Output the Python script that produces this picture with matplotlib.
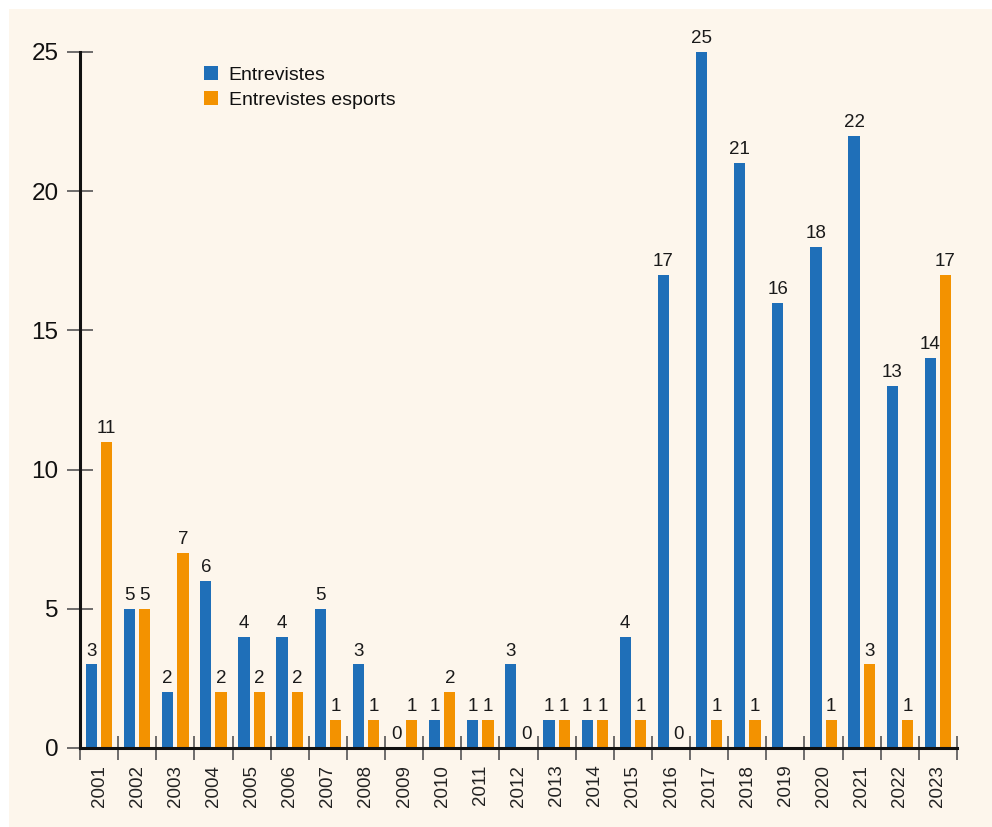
import matplotlib
matplotlib.use("Agg")
import matplotlib.pyplot as plt
from matplotlib.patches import Rectangle
import numpy as np

years = [str(y) for y in range(2001, 2024)]
entrevistes = [3, 5, 2, 6, 4, 4, 5, 3, 0, 1, 1, 3, 1, 1, 4, 17, 25, 21, 16, 18, 22, 13, 14]
esports = [11, 5, 7, 2, 2, 2, 1, 1, 1, 2, 1, 0, 1, 1, 1, 0, 1, 1, None, 1, 3, 1, 17]
series_names = ["Entrevistes", "Entrevistes esports"]
yticks = [0, 5, 10, 15, 20, 25]

BLUE = "#1f6fb8"
ORANGE = "#f39200"
BG = "#fdf6ec"

plt.rcParams['font.family'] = ['Liberation Sans', 'DejaVu Sans']
label_font = ['Liberation Sans Narrow', 'Liberation Sans', 'DejaVu Sans']

fig = plt.figure(figsize=(9.92, 8.27), dpi=100, facecolor="white")
fig.patches.append(Rectangle((9/992, 0), 1 - 9/992, 1 - 9/827, transform=fig.transFigure,
                             facecolor=BG, edgecolor="none", zorder=-10))
ax = fig.add_axes([80/992, 1 - 748/827, (957 - 80)/992, (748 - 52)/827])
ax.set_facecolor("none")

n = len(years)
x = np.arange(n)
w = 0.295
bx = x + 0.30
ox = x + 0.70

b1 = ax.bar(bx, entrevistes, width=w, color=BLUE, label=series_names[0], zorder=2)
ox_valid = [xx for xx, v in zip(ox, esports) if v is not None]
ov_valid = [v for v in esports if v is not None]
b2 = ax.bar(ox_valid, ov_valid, width=w, color=ORANGE, label=series_names[1], zorder=2)

for xs, vs in ((bx, entrevistes), (ox_valid, ov_valid)):
    for xx, v in zip(xs, vs):
        ax.annotate(str(v), (xx, v), xytext=(0, 3.5), textcoords="offset points",
                    ha="center", va="bottom", fontsize=13.5, family=label_font,
                    color="#1a1a1a", clip_on=False)

ax.set_xlim(0, n)
ax.set_ylim(0, 25)

for s in ["top", "right"]:
    ax.spines[s].set_visible(False)
for s in ["left", "bottom"]:
    ax.spines[s].set_linewidth(2.2)
    ax.spines[s].set_color("#111111")

ax.set_yticks(yticks)
ax.set_yticklabels([str(t) for t in yticks], fontsize=17.5, color="#111111")
ax.tick_params(axis="y", which="major", direction="inout", length=19, width=1.2,
               color="#555555", pad=6)

ax.set_xticks(np.arange(0, n + 1))
ax.set_xticklabels([])
ax.set_xticks(x + 0.5, minor=True)
ax.set_xticklabels(years, minor=True, rotation=90, fontsize=13.5, color="#222222")
ax.tick_params(axis="x", which="major", direction="inout", length=17, width=1.2, color="#555555")
ax.tick_params(axis="x", which="minor", length=0, pad=12)

leg = ax.legend(handles=[b1, b2], loc="upper left", bbox_to_anchor=(204/992, 1 - 66/827),
                bbox_transform=fig.transFigure, frameon=False, fontsize=14,
                handlelength=0.72, handleheight=0.72, handletextpad=0.55,
                labelspacing=0.38, borderpad=0, borderaxespad=0)
for t in leg.get_texts():
    t.set_color("#111111")

fig.savefig("out.png", dpi=100, facecolor=fig.get_facecolor())
